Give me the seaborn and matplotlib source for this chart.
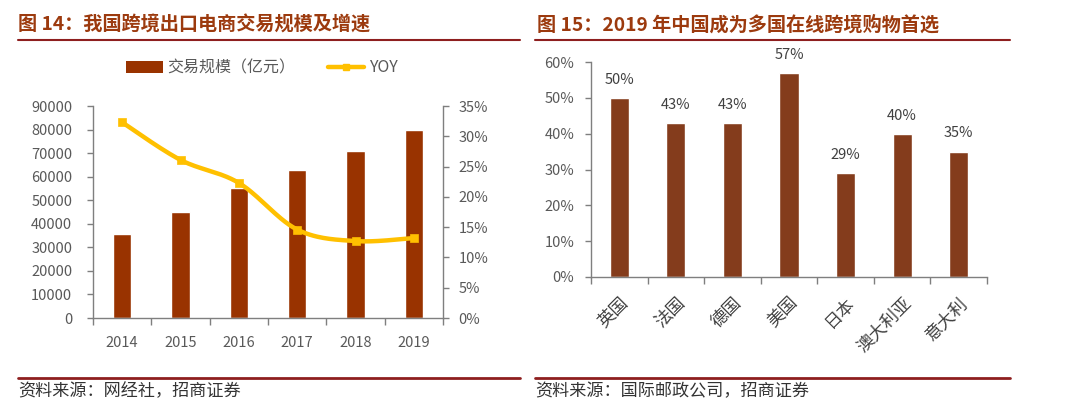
import numpy as np
import pandas as pd
import matplotlib
matplotlib.use("Agg")
import matplotlib.pyplot as plt
import seaborn as sns
from matplotlib.lines import Line2D
from matplotlib.patches import Patch
from matplotlib.ticker import FuncFormatter, MultipleLocator

sns.set_theme(style="white")
plt.rcParams['font.family'] = ['Noto Sans CJK SC', 'DejaVu Sans']

# ---- data ----
years = ["2014", "2015", "2016", "2017", "2018", "2019"]
trade_scale = [35700, 45000, 55000, 63000, 71000, 80000]
yoy = [32.3, 26.1, 22.3, 14.6, 12.7, 13.2]

countries = ["英国", "法国", "德国", "美国", "日本", "澳大利亚", "意大利"]
share = [50, 43, 43, 57, 29, 40, 35]

title_left = "图 14：我国跨境出口电商交易规模及增速"
title_right = "图 15：2019 年中国成为多国在线跨境购物首选"
source_left = "资料来源：网经社，招商证券"
source_right = "资料来源：国际邮政公司，招商证券"

W, H = 1080, 407
fig = plt.figure(figsize=(W / 100, H / 100), dpi=100)
fig.patch.set_facecolor("white")

def px(x0, y0, x1, y1):
    return [x0 / W, 1 - y1 / H, (x1 - x0) / W, (y1 - y0) / H]

TXT = "#595959"
SP = "#7f7f7f"
TITLE_C = "#9C3A0E"
RULE_C = "#8E1F1F"

# ---- headers / rules / sources ----
fig.text(18 / W, 1 - 25 / H, title_left, fontsize=13.8, fontweight="bold", color=TITLE_C, va="center", ha="left")
fig.text(537 / W, 1 - 25 / H, title_right, fontsize=13.8, fontweight="bold", color=TITLE_C, va="center", ha="left")
for (a, b) in [(18, 520), (535, 1010)]:
    fig.add_artist(Line2D([a / W, b / W], [1 - 39.5 / H] * 2, color=RULE_C, lw=1.5))
    fig.add_artist(Line2D([a / W, b / W], [1 - 377.5 / H] * 2, color=RULE_C, lw=2.0))
fig.text(18 / W, 1 - 391 / H, source_left, fontsize=12.3, color="#333333", va="center", ha="left")
fig.text(535 / W, 1 - 391 / H, source_right, fontsize=12.3, color="#333333", va="center", ha="left")

# ---- left chart ----
ax = fig.add_axes(px(93, 106, 443, 318))
df1 = pd.DataFrame({"year": years, "scale": trade_scale})
sns.barplot(data=df1, x="year", y="scale", ax=ax, color="#993300", width=0.31, saturation=1)
ax.set_ylim(0, 90000)
ax.set_xlim(-0.5, len(years) - 0.5)
ax.yaxis.set_major_locator(MultipleLocator(10000))
ax.set_xlabel("")
ax.set_ylabel("")
ax.set_xticks(np.arange(len(years)))
ax.set_xticklabels(years)
ax.set_xticks(np.arange(len(years) + 1) - 0.5, minor=True)
ax.tick_params(axis="x", which="major", length=0, pad=13, labelsize=10.5, labelcolor=TXT)
ax.tick_params(axis="x", which="minor", length=5, width=1, color=SP, direction="out", bottom=True)
ax.tick_params(axis="y", length=4, width=1, color=SP, direction="out", left=True, labelsize=10.5, labelcolor=TXT, pad=11)
for s in ["top", "right"]:
    ax.spines[s].set_visible(False)
for s in ["left", "bottom"]:
    ax.spines[s].set_color(SP)
    ax.spines[s].set_linewidth(1)

ax2 = ax.twinx()
# smooth curve (Catmull-Rom) through the YOY points
xi = np.arange(len(yoy), dtype=float)
yv = np.array(yoy, dtype=float)
xs, ys = [], []
P = np.concatenate([[yv[0]], yv, [yv[-1]]])
X = np.concatenate([[xi[0]], xi, [xi[-1]]])
for i in range(1, len(P) - 2):
    t = np.linspace(0, 1, 30)
    for arr, out in ((X, xs), (P, ys)):
        p0, p1, p2, p3 = arr[i - 1], arr[i], arr[i + 1], arr[i + 2]
        out.extend(0.5 * ((2 * p1) + (-p0 + p2) * t + (2 * p0 - 5 * p1 + 4 * p2 - p3) * t ** 2 + (-p0 + 3 * p1 - 3 * p2 + p3) * t ** 3))
ax2.plot(xs, ys, color="#FFC000", lw=3.2, solid_capstyle="round", zorder=3)
sns.scatterplot(x=xi, y=yv, ax=ax2, marker="s", s=36, color="#FFC000", edgecolor="#FFC000", zorder=4, legend=False)
ax2.set_ylim(0, 35)
ax2.set_xlim(-0.5, len(years) - 0.5)
ax2.yaxis.set_major_locator(MultipleLocator(5))
ax2.yaxis.set_major_formatter(FuncFormatter(lambda v, p: f"{v:.0f}%"))
ax2.tick_params(axis="y", length=4, width=1, color=SP, direction="out", right=True, labelsize=10.5, labelcolor=TXT, pad=7)
for s in ["top", "left", "bottom"]:
    ax2.spines[s].set_visible(False)
ax2.spines["right"].set_color(SP)
ax2.spines["right"].set_linewidth(1)
ax2.grid(False)
ax.grid(False)

handles = [Patch(facecolor="#993300", edgecolor="none"),
           Line2D([0], [0], color="#FFC000", lw=3.2, marker="s", markersize=5)]
fig.legend(handles, ["交易规模（亿元）", "YOY"], loc="center", bbox_to_anchor=(262 / W, 1 - 68 / H),
           ncol=2, frameon=False, fontsize=11.5, labelcolor=TXT, handlelength=2.3, handleheight=0.7,
           columnspacing=2.0, handletextpad=0.3)

# ---- right chart ----
bx = fig.add_axes(px(591, 62, 987, 277))
df2 = pd.DataFrame({"country": countries, "share": share})
sns.barplot(data=df2, x="country", y="share", ax=bx, color="#843C1C", width=0.34, saturation=1)
bx.set_ylim(0, 60)
bx.set_xlim(-0.5, len(countries) - 0.5)
bx.yaxis.set_major_locator(MultipleLocator(10))
bx.yaxis.set_major_formatter(FuncFormatter(lambda v, p: f"{v:.0f}%"))
bx.set_xlabel("")
bx.set_ylabel("")
bx.set_xticks(np.arange(len(countries)))
bx.set_xticklabels(countries, rotation=45, ha="right", va="top", rotation_mode="anchor")
bx.set_xticks(np.arange(len(countries) + 1) - 0.5, minor=True)
bx.tick_params(axis="x", which="major", length=0, pad=12, labelsize=12.5, labelcolor="#404040")
bx.tick_params(axis="x", which="minor", length=5, width=1, color=SP, direction="out", bottom=True)
bx.tick_params(axis="y", length=4, width=1, color=SP, direction="out", left=True, labelsize=10.5, labelcolor=TXT, pad=8)
for s in ["top", "right"]:
    bx.spines[s].set_visible(False)
for s in ["left", "bottom"]:
    bx.spines[s].set_color(SP)
    bx.spines[s].set_linewidth(1)
bx.grid(False)
for i, v in enumerate(share):
    bx.annotate(f"{v}%", (i, v), xytext=(0, 8), textcoords="offset points", ha="center", va="bottom",
                fontsize=10.5, color="#404040", annotation_clip=False)

fig.savefig("out.png", dpi=100, facecolor="white")
